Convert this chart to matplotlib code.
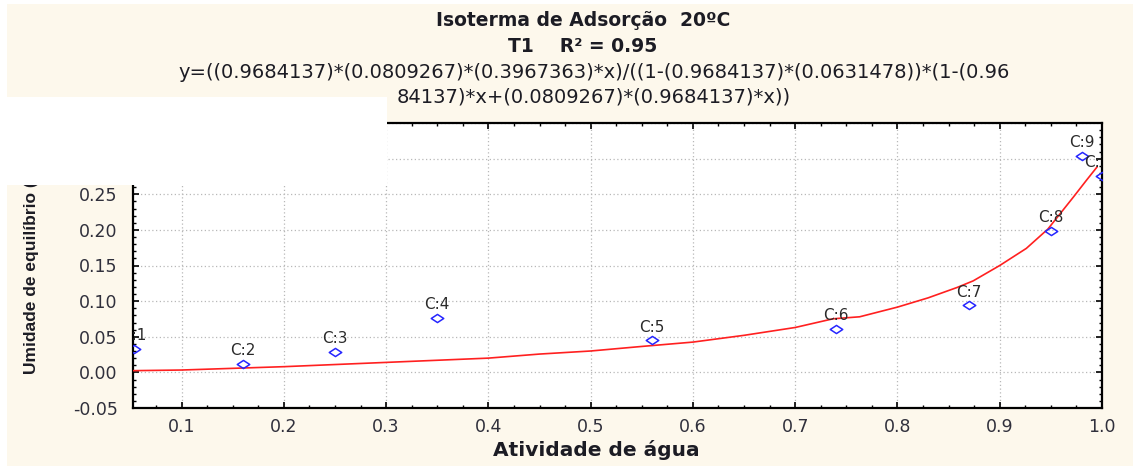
import matplotlib
matplotlib.use("Agg")
import matplotlib.pyplot as plt
from matplotlib.patches import Rectangle
from matplotlib.path import Path
from matplotlib.ticker import MultipleLocator, FormatStrFormatter

# Observed equilibrium moisture vs. water activity
point_names = ["C:1", "C:2", "C:3", "C:4", "C:5", "C:6", "C:7", "C:8", "C:9", "C:10"]
aw_obs = [0.053, 0.16, 0.25, 0.35, 0.56, 0.74, 0.87, 0.95, 0.98, 1.00]
moist_obs = [0.033, 0.012, 0.029, 0.077, 0.045, 0.061, 0.094, 0.199, 0.304, 0.276]

# Fitted isotherm curve
aw_fit = [0.0525, 0.10, 0.20, 0.30, 0.40, 0.45, 0.50, 0.55, 0.60, 0.65, 0.70,
          0.737, 0.763, 0.80, 0.83, 0.858, 0.874, 0.90, 0.926, 0.947, 0.972,
          0.985, 0.995]
moist_fit = [0.0024, 0.0033, 0.008, 0.014, 0.020, 0.0257, 0.030, 0.0364, 0.0425,
             0.052, 0.063, 0.0752, 0.078, 0.0916, 0.1046, 0.119, 0.1284, 0.150,
             0.174, 0.201, 0.246, 0.270, 0.288]

title_1 = "Isoterma de Adsorção  20ºC"
title_2 = "T1    R² = 0.95"
eq_1 = "y=((0.9684137)*(0.0809267)*(0.3967363)*x)/((1-(0.9684137)*(0.0631478))*(1-(0.96"
eq_2 = "84137)*x+(0.0809267)*(0.9684137)*x))"
x_label = "Atividade de água"
y_label = "Umidade de equilíbrio (b.s.)"

W, H = 1133, 466
CREAM = "#fdf8ec"
TXT = "#1c1c24"

fig = plt.figure(figsize=(W / 100, H / 100), dpi=100, facecolor=CREAM)

def fx(px):
    return px / W

def fy(py):
    return 1 - py / H

# white frame strips along top and left edge
fig.add_artist(Rectangle((0, fy(4)), 1, 4 / H, transform=fig.transFigure,
                         facecolor="white", edgecolor="none", zorder=0))
fig.add_artist(Rectangle((0, 0), 7 / W, 1, transform=fig.transFigure,
                         facecolor="white", edgecolor="none", zorder=0))

ax = fig.add_axes([fx(133), fy(408), (1102 - 133) / W, (408 - 123) / H])
ax.set_facecolor("white")

ax.plot(aw_fit, moist_fit, color="#ff2020", lw=1.2, zorder=3)

diamond = Path([(-1, 0), (0, 0.65), (1, 0), (0, -0.65), (-1, 0)],
               [Path.MOVETO, Path.LINETO, Path.LINETO, Path.LINETO, Path.CLOSEPOLY])
ax.plot(aw_obs, moist_obs, linestyle="none", marker=diamond, markersize=9,
        markerfacecolor="none", markeredgecolor="#2626ff", markeredgewidth=1.1,
        zorder=4)

for name, xv, yv in zip(point_names, aw_obs, moist_obs):
    ax.annotate(name, (xv, yv), xytext=(0, 9.5), textcoords="offset points",
                ha="center", va="center", fontsize=11, color="#2a2a2a",
                clip_on=True, zorder=5)

ax.set_xlim(0.0525, 1.0)
ax.set_ylim(-0.05, 0.35)
ax.xaxis.set_major_locator(MultipleLocator(0.1))
ax.xaxis.set_minor_locator(MultipleLocator(0.025))
ax.yaxis.set_major_locator(MultipleLocator(0.05))
ax.yaxis.set_minor_locator(MultipleLocator(0.01))
ax.xaxis.set_major_formatter(FormatStrFormatter("%.1f"))
ax.yaxis.set_major_formatter(FormatStrFormatter("%.2f"))

ax.tick_params(which="both", direction="in", top=True, right=True,
               labeltop=False, labelright=False, colors="black",
               labelcolor="#30303c", labelsize=12.5)
ax.tick_params(which="major", length=4, width=1.2)
ax.tick_params(which="minor", length=2.5, width=1.0)
ax.tick_params(axis="y", which="major", pad=11)
ax.tick_params(axis="x", which="major", pad=7)

ax.grid(True, which="major", color="#b8b8b8", linestyle=(0, (1, 2)), lw=0.9)
for s in ax.spines.values():
    s.set_linewidth(1.6)
    s.set_color("black")

# titles and fitted equation
fig.text(fx(583), fy(20), title_1, ha="center", va="center",
         fontsize=13.5, fontweight="bold", color=TXT)
fig.text(fx(583), fy(47), title_2, ha="center", va="center",
         fontsize=13.5, fontweight="bold", color=TXT)
fig.text(fx(594), fy(73), eq_1, ha="center", va="center", fontsize=14, color=TXT)
fig.text(fx(594), fy(97), eq_2, ha="center", va="center", fontsize=14, color=TXT)

# axis titles
fig.text(fx(596), fy(450), x_label, ha="center", va="center", fontsize=14.5,
         fontweight="bold", color=TXT)
fig.text(fx(32), fy(260), y_label, ha="center", va="center", rotation=90,
         fontsize=12.5, fontweight="bold", color=TXT,
         family=["Liberation Sans", "DejaVu Sans"])

# white panel over the upper left corner
fig.add_artist(Rectangle((fx(7), fy(185)), 380 / W, 88 / H,
                         transform=fig.transFigure, facecolor="white",
                         edgecolor="none", zorder=10))

fig.savefig("out.png", dpi=100, facecolor=CREAM)
